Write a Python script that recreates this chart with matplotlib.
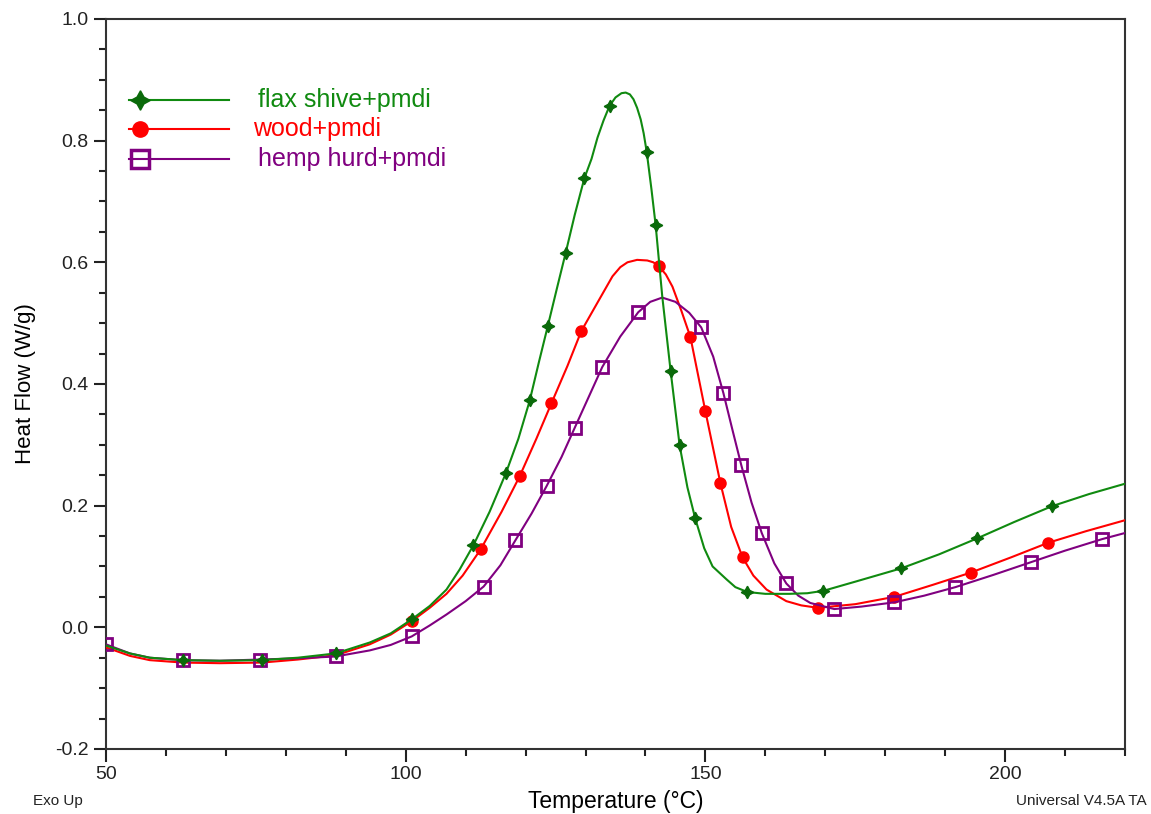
import numpy as np
import matplotlib.pyplot as plt
from matplotlib.ticker import MultipleLocator

# DSC curves: temperature (°C) and heat flow (W/g)
flax_T = [50, 54, 57.3, 62.8, 69, 76, 82, 88.3, 94, 97.5, 101, 104, 106.8, 109, 111.3,
          114, 116.7, 118.8, 120.7, 122.2, 123.7, 125.2, 126.7, 128.2, 129.8, 131, 132,
          133, 134, 135, 136, 136.7, 137.4, 138, 138.6, 139.2, 139.7, 140.2, 141, 141.7,
          142.8, 144.2, 145.7, 147, 148.3, 149.8, 151.2, 153.5, 155, 157, 160, 164, 167,
          169.7, 175, 182.7, 189, 195.3, 201.5, 207.8, 214, 220]
flax_HF = [-0.030, -0.043, -0.050, -0.054, -0.055, -0.054, -0.050, -0.043, -0.025, -0.010,
           0.013, 0.035, 0.062, 0.095, 0.135, 0.190, 0.253, 0.310, 0.373, 0.435, 0.495,
           0.556, 0.616, 0.678, 0.738, 0.770, 0.805, 0.833, 0.857, 0.871, 0.878, 0.879,
           0.876, 0.868, 0.854, 0.835, 0.812, 0.782, 0.720, 0.661, 0.544, 0.421, 0.299,
           0.230, 0.179, 0.130, 0.100, 0.079, 0.066, 0.058, 0.055, 0.055, 0.056, 0.060,
           0.075, 0.097, 0.120, 0.146, 0.173, 0.199, 0.219, 0.236]
flax_marks = [62.8, 76, 88.3, 101, 111.3, 116.7, 120.7, 123.7, 126.7, 129.8, 134, 140.2,
              141.7, 144.2, 145.7, 148.3, 157, 169.7, 182.7, 195.3, 207.8]

wood_T = [50, 54, 57.3, 62.8, 69, 76, 82, 88.3, 94, 97.5, 101, 104, 106.8, 109.5, 112.5,
          116, 119, 121.8, 124.3, 127, 129.3, 132.3, 134.5, 135.8, 137, 138.6, 140.3, 141.3,
          142.2, 143.4, 144.5, 146, 147.5, 150, 152.5, 154.3, 156.2, 158, 160.2, 163.5, 166,
          168.8, 175, 181.5, 188, 194.3, 201, 207.2, 213.5, 220]
wood_HF = [-0.033, -0.047, -0.054, -0.058, -0.059, -0.058, -0.053, -0.046, -0.028, -0.012,
           0.010, 0.032, 0.055, 0.085, 0.128, 0.190, 0.248, 0.310, 0.368, 0.430, 0.487,
           0.539, 0.577, 0.592, 0.600, 0.604, 0.603, 0.600, 0.594, 0.580, 0.560, 0.520,
           0.477, 0.355, 0.237, 0.165, 0.115, 0.085, 0.062, 0.043, 0.036, 0.032, 0.038,
           0.050, 0.070, 0.090, 0.115, 0.139, 0.158, 0.176]
wood_marks = [101, 112.5, 119, 124.3, 129.3, 142.2, 147.5, 150, 152.5, 156.2, 168.8,
              181.5, 194.3, 207.2]

hemp_T = [50, 54, 57.3, 62.8, 69, 75.7, 82, 88.3, 94, 97.5, 101, 104, 106.8, 110, 113,
          115.8, 118.3, 121, 123.5, 126, 128.2, 130.5, 132.8, 135.8, 138.8, 140.8, 142.8,
          145, 147.3, 149.3, 151.3, 153, 154.5, 156, 157.7, 159.4, 161.5, 163.5, 165.5,
          167.5, 171.5, 176, 181.5, 186.5, 191.7, 198, 204.3, 210, 216.2, 220]
hemp_HF = [-0.028, -0.043, -0.050, -0.054, -0.055, -0.053, -0.051, -0.048, -0.038, -0.029,
           -0.015, 0.003, 0.021, 0.043, 0.067, 0.102, 0.143, 0.187, 0.232, 0.280, 0.328,
           0.378, 0.428, 0.478, 0.518, 0.535, 0.542, 0.535, 0.517, 0.493, 0.445, 0.385,
           0.325, 0.266, 0.205, 0.155, 0.105, 0.072, 0.052, 0.040, 0.030, 0.034, 0.041,
           0.052, 0.066, 0.086, 0.107, 0.126, 0.145, 0.155]
hemp_marks = [50, 62.8, 75.7, 88.3, 101, 113, 118.3, 123.5, 128.2, 132.8, 138.8, 149.3,
              153, 156, 159.4, 163.5, 171.5, 181.5, 191.7, 204.3, 216.2]

labels = ['flax shive+pmdi', 'wood+pmdi', 'hemp hurd+pmdi']

plt.rcParams['font.family'] = ['Liberation Sans', 'DejaVu Sans']
green, red, purple = '#108a10', '#ff0000', '#800080'

fig = plt.figure(figsize=(11.51, 8.14), dpi=100)
ax = fig.add_axes([0.0921, 0.0799, 0.8853, 0.8968])


def marks(T, sel):
    return list(np.where(np.isin(T, sel))[0])


ax.plot(wood_T, wood_HF, color=red, lw=1.5, marker='o', ms=8, mfc=red, mec=red,
        markevery=marks(wood_T, wood_marks), zorder=3)
ax.plot(hemp_T, hemp_HF, color=purple, lw=1.5, marker='s', ms=9, mfc='none', mec=purple,
        mew=2, markevery=marks(hemp_T, hemp_marks), zorder=4)
ax.plot(flax_T, flax_HF, color=green, lw=1.5, marker=(4, 1, 0), ms=9, mfc='#0a6a0a',
        mec='#0a6a0a', markevery=marks(flax_T, flax_marks), zorder=5)

# legend drawn by hand like the original
leg_y = [0.889, 0.849, 0.808]
leg_x = [0.149, 0.144, 0.149]
styles = [dict(color=green, marker=(4, 1, 0), ms=14, mfc='#0a6a0a', mec='#0a6a0a'),
          dict(color=red, marker='o', ms=11, mfc=red, mec=red),
          dict(color=purple, marker='s', ms=13, mfc='none', mec=purple, mew=2.5)]
for y, x, lab, st in zip(leg_y, leg_x, labels, styles):
    ax.plot([0.023, 0.121], [y, y], transform=ax.transAxes, lw=1.5, color=st['color'])
    ax.plot([0.033], [y], transform=ax.transAxes, ls='none', **st)
    ax.text(x, y, lab, transform=ax.transAxes, color=st['color'], fontsize=18,
            va='center', ha='left')

ax.set_xlim(50, 220)
ax.set_ylim(-0.2, 1.0)
ax.xaxis.set_major_locator(MultipleLocator(50))
ax.xaxis.set_minor_locator(MultipleLocator(10))
ax.yaxis.set_major_locator(MultipleLocator(0.2))
ax.yaxis.set_minor_locator(MultipleLocator(0.05))
ax.yaxis.set_major_formatter(plt.FuncFormatter(lambda v, p: f'{v:.1f}'))
ax.tick_params(which='major', length=9, width=1.5, labelsize=14, colors='#222222')
ax.tick_params(which='minor', length=5, width=1.5, colors='#222222')
for s in ax.spines.values():
    s.set_linewidth(1.5)
    s.set_color('#333333')

ax.set_xlabel('Temperature (°C)', fontsize=16.5, labelpad=5)
ax.set_ylabel('Heat Flow (W/g)', fontsize=16, labelpad=14)
fig.text(0.029, 0.016, 'Exo Up', fontsize=11, color='#222222', ha='left', va='center')
fig.text(0.996, 0.016, 'Universal V4.5A TA', fontsize=11, color='#222222', ha='right',
         va='center')

fig.savefig('out.png', dpi=100)
